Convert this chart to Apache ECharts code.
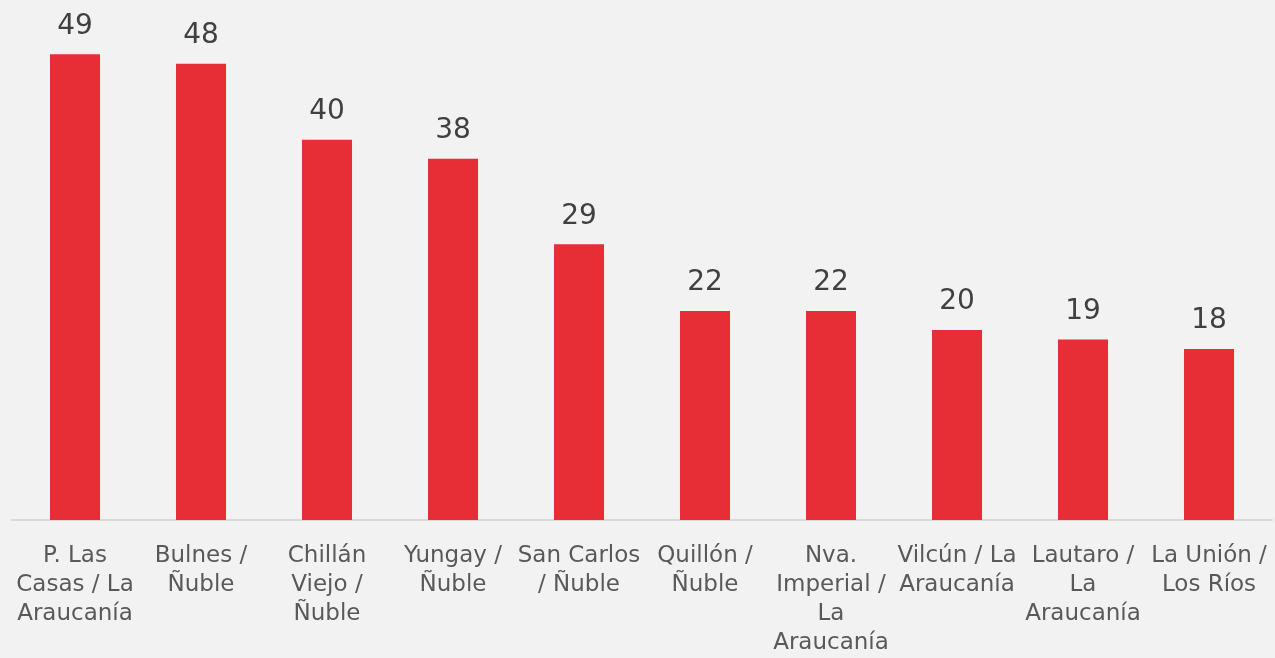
<!DOCTYPE html>
<html>
<head>
<meta charset="utf-8">
<script src="https://cdn.jsdelivr.net/npm/echarts@6/dist/echarts.min.js"></script>
<style>
html,body{margin:0;padding:0;background:#f2f2f2;}
#c{width:1275px;height:658px;}
</style>
</head>
<body>
<div id="c"></div>
<script>
const categories = [
  "P. Las\nCasas / La\nAraucanía",
  "Bulnes /\nÑuble",
  "Chillán\nViejo /\nÑuble",
  "Yungay /\nÑuble",
  "San Carlos\n/ Ñuble",
  "Quillón /\nÑuble",
  "Nva.\nImperial /\nLa\nAraucanía",
  "Vilcún / La\nAraucanía",
  "Lautaro /\nLa\nAraucanía",
  "La Unión /\nLos Ríos"
];
const values = [49, 48, 40, 38, 29, 22, 22, 20, 19, 18];

const chart = echarts.init(document.getElementById('c'));
chart.setOption({
  backgroundColor: '#f2f2f2',
  animation: false,
  grid: {left: 12, right: 3, top: 2, bottom: 133, containLabel: false},
  xAxis: {
    type: 'category',
    data: categories,
    axisLine: {show: true, lineStyle: {color: '#d9d9d9', width: 2}},
    axisTick: {show: false},
    axisLabel: {
      interval: 0,
      margin: 22,
      color: '#595959',
      fontFamily: 'DejaVu Sans',
      fontSize: 23,
      lineHeight: 29
    }
  },
  yAxis: {
    type: 'value',
    min: 0,
    max: 54.5,
    show: false,
    splitLine: {show: false}
  },
  series: [{
    type: 'bar',
    data: values,
    barWidth: 50,
    itemStyle: {color: '#E72E36'},
    label: {
      show: true,
      position: 'top',
      distance: 14,
      color: '#404040',
      fontFamily: 'DejaVu Sans',
      fontSize: 28
    }
  }]
});
</script>
</body>
</html>
